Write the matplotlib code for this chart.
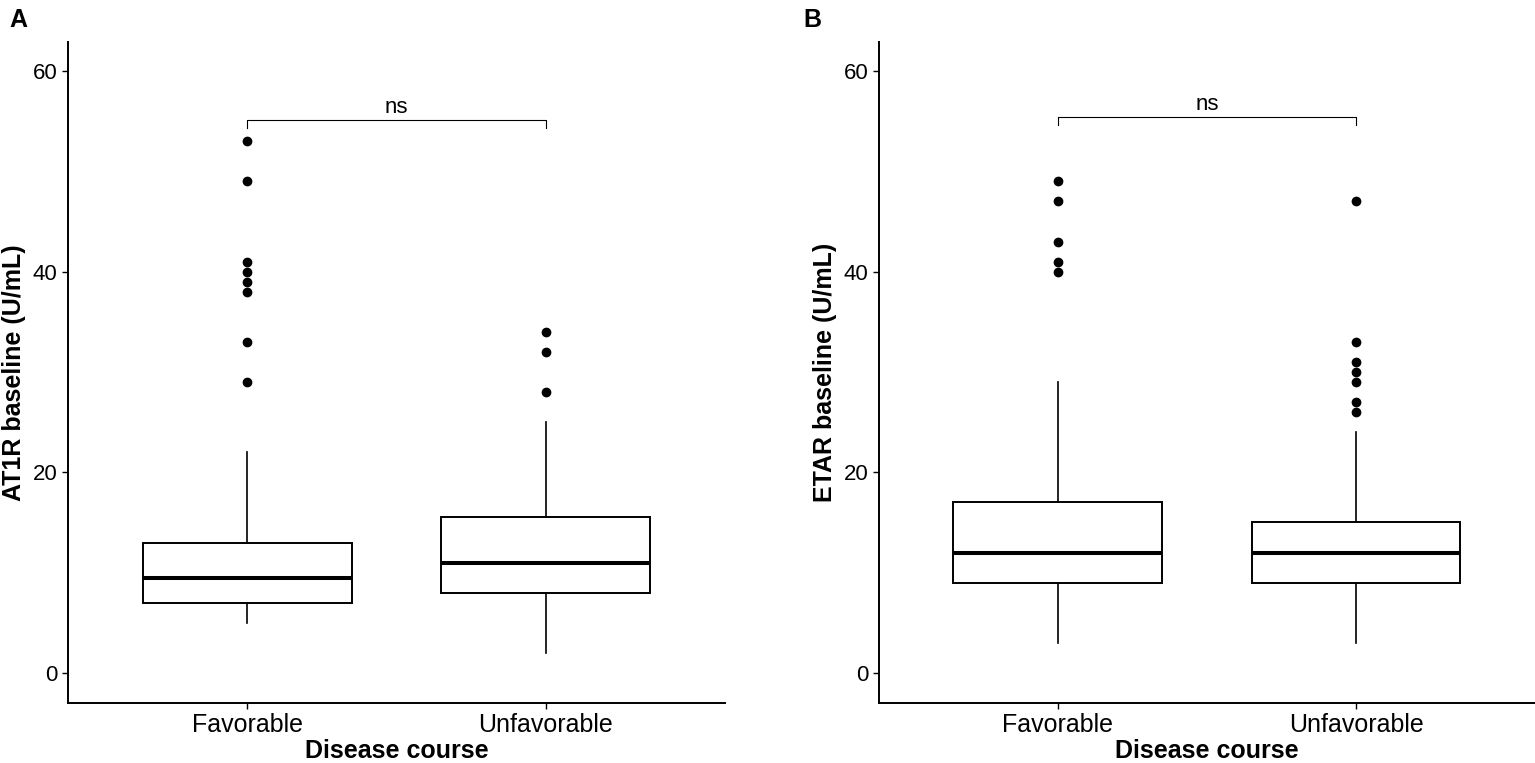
import matplotlib
matplotlib.use('AGG')

import matplotlib.pyplot as plt

plt.rcParams['font.family'] = ['Liberation Sans', 'DejaVu Sans']

categories = ['Favorable', 'Unfavorable']

# panel A: AT1R baseline (U/mL)
at1r_whislo = [5, 2]
at1r_q1 = [7, 8]
at1r_med = [9.5, 11]
at1r_q3 = [13, 15.5]
at1r_whishi = [22, 25]
at1r_fliers = [[29, 33, 38, 39, 40, 41, 49, 53], [28, 32, 34]]
at1r_bracket = 55.1

# panel B: ETAR baseline (U/mL)
etar_whislo = [3, 3]
etar_q1 = [9, 9]
etar_med = [12, 12]
etar_q3 = [17, 15]
etar_whishi = [29, 24]
etar_fliers = [[40, 41, 43, 47, 49], [26, 27, 29, 30, 31, 33, 47]]
etar_bracket = 55.4

y_ticks = [0, 20, 40, 60]


def make_stats(lo, q1, med, q3, hi, fl):
  stats = []
  for i in range(len(categories)):
    stats.append({'whislo': lo[i], 'q1': q1[i], 'med': med[i], 'q3': q3[i],
                  'whishi': hi[i], 'fliers': fl[i], 'label': categories[i]})
  return stats


def draw_panel(ax, stats, bracket_y, ylabel, tag, tag_x):
  ax.bxp(stats, positions=[1, 2], widths=0.7, showcaps=False,
         patch_artist=True,
         boxprops=dict(facecolor='white', edgecolor='black', linewidth=1.4),
         medianprops=dict(color='black', linewidth=2.9),
         whiskerprops=dict(color='black', linewidth=1.2),
         flierprops=dict(marker='o', markerfacecolor='black',
                         markeredgecolor='black', markersize=6))
  # significance bracket
  ax.plot([1, 1, 2, 2], [bracket_y - 0.8, bracket_y, bracket_y, bracket_y - 0.8],
          color='black', linewidth=0.8)
  ax.text(1.5, bracket_y + 0.68, 'ns', ha='center', va='baseline', fontsize=16)
  ax.set_xlim(0.4, 2.6)
  ax.set_ylim(-3.0, 62.9)
  ax.set_yticks(y_ticks)
  ax.set_xticks([1, 2])
  ax.set_xticklabels(categories)
  ax.spines['top'].set_visible(False)
  ax.spines['right'].set_visible(False)
  ax.spines['left'].set_linewidth(1.4)
  ax.spines['bottom'].set_linewidth(1.4)
  ax.tick_params(axis='both', length=4.5, width=1.0, pad=3)
  ax.tick_params(axis='x', labelsize=18)
  ax.tick_params(axis='y', labelsize=16)
  ax.set_xlabel('Disease course', fontsize=18, fontweight='bold', labelpad=1)
  ax.set_ylabel(ylabel, fontsize=18, fontweight='bold', labelpad=5)
  ax.figure.text(tag_x, 0.99, tag, fontsize=18, fontweight='bold',
                 va='top', ha='left')


def main():
  fig = plt.figure(figsize=(15.35, 7.63), dpi=100)
  ax_a = fig.add_axes([0.0443, 0.0786, 0.428, 0.8664])
  ax_b = fig.add_axes([0.5726, 0.0786, 0.4274, 0.8664])
  draw_panel(ax_a, make_stats(at1r_whislo, at1r_q1, at1r_med, at1r_q3,
                              at1r_whishi, at1r_fliers),
             at1r_bracket, 'AT1R baseline (U/mL)', 'A', 0.006)
  draw_panel(ax_b, make_stats(etar_whislo, etar_q1, etar_med, etar_q3,
                              etar_whishi, etar_fliers),
             etar_bracket, 'ETAR baseline (U/mL)', 'B', 0.5235)
  fig.savefig('out.png', dpi=100)


if __name__ == "__main__":
  main()
